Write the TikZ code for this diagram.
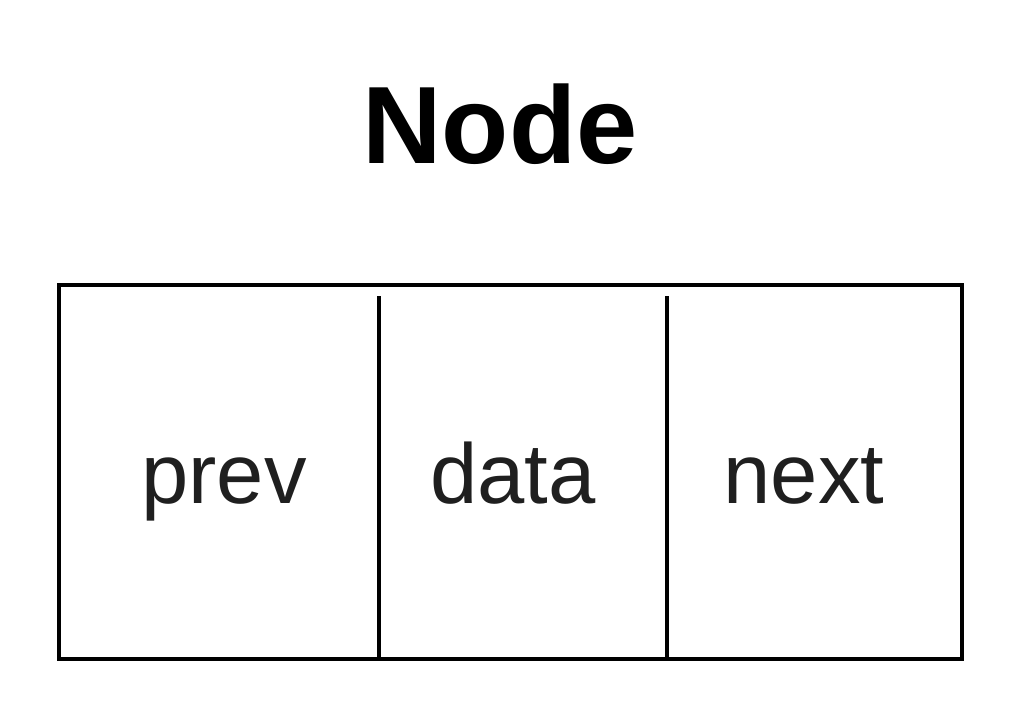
\documentclass[tikz,border=0pt]{standalone}
\usepackage{fontspec}
\setmainfont{Liberation Sans}
\begin{document}
\begin{tikzpicture}[x=1pt,y=-1pt,
  cellbox/.style={draw=black, line width=4.5pt, minimum width=903pt, minimum height=374pt, inner sep=0pt},
  divider/.style={draw=black, line width=4pt},
  celltext/.style={anchor=base, inner sep=0pt, text=black!88, font=\fontsize{85}{100}\selectfont},
  titletext/.style={anchor=base, inner sep=0pt, text=black, font=\fontsize{110}{130}\selectfont\bfseries}]
\useasboundingbox (0,0) rectangle (1030,720);
\node[cellbox] (box) at (510.5,472) {};
\coordinate (d1t) at (379,296);
\coordinate (d1b) at (379,659);
\coordinate (d2t) at (667,296);
\coordinate (d2b) at (667,659);
\draw[divider] (d1t) -- (d1b);
\draw[divider] (d2t) -- (d2b);
\node[titletext] (title) at (500,163) {Node};
\node[celltext] (prev) at (224,503) {prev};
\node[celltext] (data) at (513,503) {data};
\node[celltext] (next) at (804,503) {next};
\end{tikzpicture}
\end{document}
